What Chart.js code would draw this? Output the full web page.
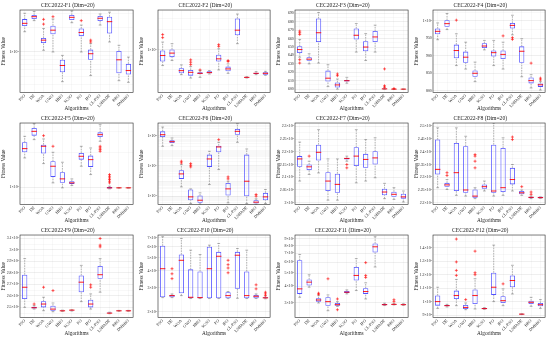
<!DOCTYPE html>
<html>
<head>
<meta charset="utf-8">
<script src="https://cdn.jsdelivr.net/npm/chart.js@4"></script>
<style>
  html, body { margin: 0; padding: 0; background: #fff; }
  #grid { position: relative; width: 550px; height: 338px; }
  #grid canvas { position: absolute; }
</style>
</head>
<body>
<div id="grid"></div>
<script>
const algorithms = ['PSO', 'DE', 'WOA', 'GWO', 'HHO', 'SCSO', 'PO', 'IPO', 'CL-PSO', 'LSHADE', 'BBO', 'DMBBO'];
const panelTitles = [
  'CEC2022-F1 (Dim=20)', 'CEC2022-F2 (Dim=20)', 'CEC2022-F3 (Dim=20)', 'CEC2022-F4 (Dim=20)',
  'CEC2022-F5 (Dim=20)', 'CEC2022-F6 (Dim=20)', 'CEC2022-F7 (Dim=20)', 'CEC2022-F8 (Dim=20)',
  'CEC2022-F9 (Dim=20)', 'CEC2022-F10 (Dim=20)', 'CEC2022-F11 (Dim=20)', 'CEC2022-F12 (Dim=20)'
];

// box stats per algorithm: [min, q1, median, q3, max]
const f1Stats = [[17800,20900,22600,25500,30100],[24400,25500,27300,28700,31600],[10500,12900,14000,14900,19500],[10000,16600,18600,21100,25500],[4300,5620,6810,8010,9080],[23000,24800,26800,28700,32200],[10000,15700,17400,19500,21500],[5110,8010,9520,10700,12700],[21500,24100,26100,27900,29500],[13300,16900,23700,27300,31000],[4420,5460,8010,10300,12100],[4220,5260,5900,7140,8650]];
const f1Outliers = [[],[],[25300,22100],[27300],[],[],[24400],[13300,14000],[],[],[],[]];
const f1Range = [3160, 33000];
const f1Ticks = [10000];
const f1TickLabels = ['1×10⁴'];

const f2Stats = [[5.73e6,6.60e6,8.15e6,9.72e6,1.30e7],[6.83e6,7.69e6,8.85e6,1.007e7,1.23e7],[4.17e6,4.37e6,4.80e6,5.22e6,5.87e6],[3.71e6,4.03e6,4.53e6,4.92e6,5.53e6],[3.80e6,4.27e6,4.37e6,4.53e6,4.80e6],[4.27e6,4.37e6,4.48e6,4.69e6,4.80e6],[4.92e6,6.60e6,7.25e6,8.35e6,1.03e7],[4.37e6,4.69e6,5.10e6,5.53e6,6.08e6],[1.23e7,1.65e7,1.97e7,2.97e7,3.46e7],[3.71e6,3.75e6,3.80e6,3.85e6,3.89e6],[4.17e6,4.27e6,4.37e6,4.48e6,4.64e6],[4.08e6,4.17e6,4.37e6,4.53e6,4.69e6]];
const f2Outliers = [[1.69e7,1.52e7],[],[],[5.93e6,6.45e6,7.0e6],[4.92e6],[],[1.12e7,1.19e7],[6.6e6,6.83e6],[],[],[],[]];
const f2Range = [2.24e6, 3.98e7];
const f2Ticks = [1e7];
const f2TickLabels = ['1×10⁷'];

const f3Stats = [[638,643,647,651,659],[630,633.6,635.6,638,642],[631,656,667,684,691],[603,609,613,622,629],[600,602,605,608,612],[607,609,610,611,614],[644,659,664,672,678],[634,645,650,657,666],[644,656,662,669,676],[599.8,600,600.3,600.8,601.5],[599.8,599.9,600,600.1,600.3],[599.8,599.9,600,600.1,600.2]];
const f3Outliers = [[669,667,665,635,631],[],[],[],[616,618],[],[],[],[],[624,604,602.5],[600.8],[]];
const f3Range = [596, 694];
const f3Ticks = [600,610,620,630,640,650,660,670,680,690];
const f3TickLabels = ['600','610','620','630','640','650','660','670','680','690'];

const f4Stats = [[946,961.5,970,978,994],[975,983,992,1002,1021],[872,893,915,932,963],[862,880,896,912,939],[826,840,850,858,882],[917,922,928,936,944],[872,898,909,915,944],[862,891,904,915,939],[960,978,987,994,1016],[840,880,913,927,949],[808,821,829,838,846],[802,811,817,821,826]];
const f4Outliers = [[],[],[1002],[],[],[],[],[957],[952,947],[],[879],[836,831]];
const f4Range = [795, 1031];
const f4Ticks = [800,850,900,950,1000];
const f4TickLabels = ['800','850','900','950','1×10³'];

const f5Stats = [[1778,1989,2138,2423,2727],[2554,2763,3010,3215,3503],[1590,1937,2239,2313,2589],[1086,1222,1509,1665,1989],[984,1086,1175,1340,1633],[1030,1064,1086,1122,1175],[1509,1720,1838,1963,2239],[1280,1489,1720,1862,2166],[2472,2692,2818,2951,3434],[965,971,984,1003,1017],[980,982,984,985,987],[980,982,984,985,987]];
const f5Outliers = [[],[],[2763],[2239],[],[],[],[],[2239,2166,2096,2028],[1280,1238,1198,1160,1122,1086],[],[]];
const f5Range = [708, 3548];
const f5Ticks = [1000];
const f5TickLabels = ['1×10³'];

const f6Stats = [[1.98e7,8.2e7,1.16e8,1.93e8,3.7e8],[2.19e7,3.28e7,4.0e7,4.9e7,7.0e7],[4.12e4,1.39e5,2.96e5,5.17e5,1.22e6],[3.28e3,5.4e3,9.0e3,2.75e4,3.04e4],[2.97e3,3.63e3,5.4e3,1.1e4,1.66e4],[5.87e4,8.6e5,2.89e6,5.58e6,9.25e6],[5.72e5,7.96e6,1.79e7,2.19e7,3.63e7],[3.63e3,1.1e4,3.04e4,7.56e4,9.73e4],[3.63e7,1.16e8,1.93e8,2.75e8,6.2e8],[3.28e3,9.98e3,9.73e4,5.58e6,1.32e7],[2.82e3,3.28e3,4.02e3,5.4e3,6.66e3],[3.28e3,5.4e3,9.0e3,1.66e4,2.75e4]];
const f6Outliers = [[],[],[2.03e6,1.57e6],[1.42e6,1.1e6,8.6e5],[],[],[5.44e7],[1.39e5,1.88e5],[],[],[1.29e4,9.98e3],[]];
const f6Range = [2818, 6.84e8];
const f6Ticks = [1e4, 1e6, 1e8];
const f6TickLabels = ['1×10⁴','1×10⁶','1×10⁸'];

const f7Stats = [[2085,2141,2172,2183,2238],[2111,2128,2141,2150,2163],[2117,2166,2198,2228,2287],[2010,2046,2085,2120,2172],[2010,2039,2072,2114,2172],[2163,2170,2174,2176,2183],[2078,2144,2183,2218,2287],[2085,2137,2170,2192,2248],[2098,2150,2176,2202,2255],[2016,2029,2042,2055,2076],[2013,2023,2033,2043,2059],[2003,2016,2023,2035,2046]];
const f7Outliers = [[],[2183],[],[],[],[2150,2137],[],[],[],[],[],[]];
const f7Range = [1993, 2313];
const f7Ticks = [2000,2050,2100,2150,2200,2250,2300];
const f7TickLabels = ['2×10³','2.05×10³','2.1×10³','2.15×10³','2.2×10³','2.25×10³','2.3×10³'];

const f8Stats = [[2259,2311,2331,2448,2494],[2252,2263,2270,2278,2291],[2229,2246,2318,2435,2494],[2226,2239,2250,2422,2461],[2216,2220,2226,2252,2259],[2246,2255,2263,2272,2285],[2226,2239,2246,2428,2513],[2229,2242,2259,2415,2455],[2246,2272,2291,2337,2350],[2229,2233,2239,2246,2250],[2216,2218,2221,2223,2226],[2217,2218,2220,2223,2223]];
const f8Outliers = [[],[2318,2307],[],[],[2389,2383,2363,2337],[],[],[],[2458,2448],[2263],[2242,2233],[]];
const f8Range = [2193, 2513];
const f8Ticks = [2200,2250,2300,2350,2400,2450,2500];
const f8TickLabels = ['2.2×10³','2.25×10³','2.3×10³','2.35×10³','2.4×10³','2.45×10³','2.5×10³'];

const f9Stats = [[2500,2573,2675,2784,2924],[2485,2491,2497,2506,2515],[2471,2500,2529,2553,2588],[2462,2471,2485,2515,2538],[2465,2468,2470,2473,2476],[2468,2472,2476,2478,2480],[2550,2632,2719,2778,2865],[2485,2500,2529,2567,2617],[2632,2749,2784,2860,2924],[2445,2448,2450,2455,2458],[2466,2468,2470,2472,2474],[2466,2468,2470,2472,2474]];
const f9Outliers = [[],[2529],[2675],[2646],[],[],[],[2696,2675],[3099,3041,3026],[],[],[]];
const f9Range = [2412, 3129];
const f9Ticks = [2500,2600,2700,2800,2900,3000,3100];
const f9TickLabels = ['2.5×10³','2.6×10³','2.7×10³','2.8×10³','2.9×10³','3×10³','3.1×10³'];

const f10Stats = [[2540,2554,4140,6095,7110],[2540,2554,2627,2657,2703],[2627,2735,4772,5259,6905],[2500,2512,2554,4094,5662],[2500,2512,2540,3957,5259],[2500,2512,4140,5995,6165],[2500,2512,5110,5506,6343],[2500,2512,2627,2782,2813],[2512,2945,5200,5506,5823],[2500,2512,2627,3957,5662],[2500,2512,2598,2657,2703],[2490,2512,2530,2554,2560]];
const f10Outliers = [[],[4140,3800,3500],[],[],[],[],[],[4772,4434,4190,3866],[],[],[3152,2945],[2782,2703,2627]];
const f10Range = [1815, 7316];
const f10Ticks = [2000,3000,4000,5000,6000,7000];
const f10TickLabels = ['2×10³','3×10³','4×10³','5×10³','6×10³','7×10³'];

const f11Stats = [[3307,3504,3820,6230,6871],[3931,4046,4285,4487,4864],[3000,3069,3159,3251,3404],[2627,2864,3069,3307,3444],[2831,2864,2914,3000,3069],[3504,3565,3606,3690,3754],[3711,4411,4808,5553,6412],[3214,3504,3648,3864,4236],[5553,7112,7846,8310,9322],[2870,2890,2914,2950,2990],[2900,2914,2930,2950,2970],[2880,2900,2914,2940,2960]];
const f11Outliers = [[],[],[3480,3545],[4539],[2673,3214],[],[],[5984,4808,4645],[],[],[3171,3069],[]];
const f11Range = [2340, 9600];
const f11Ticks = [3000,4000,5000,6000,7000,8000,9000];
const f11TickLabels = ['3×10³','4×10³','5×10³','6×10³','7×10³','8×10³','9×10³'];

const f12Stats = [[950,970,1000,1045,1107],[960,965,970,975,980],[970,1020,1045,1082,1165],[940,945,957,975,990],[945,982,1045,1090,1170],[943,945,948,952,955],[1000,1050,1107,1215,1420],[970,990,1007,1040,1095],[1057,1107,1157,1195,1270],[904,905,907,909,910],[965,982,995,1007,1032],[950,965,977,990,1015]];
const f12Outliers = [[],[],[1465,1295,1232,1195],[1015],[1375,1215,1200],[],[],[1132],[],[],[],[]];
const f12Range = [882, 1495];
const f12Ticks = [900,1000,1100,1200,1300,1400];
const f12TickLabels = ['9×10²','1×10³','1.1×10³','1.2×10³','1.3×10³','1.4×10³'];

const panels = [
  { stats: f1Stats, outliers: f1Outliers, log: true, range: f1Range, ticks: f1Ticks, labels: f1TickLabels },
  { stats: f2Stats, outliers: f2Outliers, log: true, range: f2Range, ticks: f2Ticks, labels: f2TickLabels },
  { stats: f3Stats, outliers: f3Outliers, log: false, range: f3Range, ticks: f3Ticks, labels: f3TickLabels },
  { stats: f4Stats, outliers: f4Outliers, log: false, range: f4Range, ticks: f4Ticks, labels: f4TickLabels },
  { stats: f5Stats, outliers: f5Outliers, log: true, range: f5Range, ticks: f5Ticks, labels: f5TickLabels },
  { stats: f6Stats, outliers: f6Outliers, log: true, range: f6Range, ticks: f6Ticks, labels: f6TickLabels },
  { stats: f7Stats, outliers: f7Outliers, log: false, range: f7Range, ticks: f7Ticks, labels: f7TickLabels },
  { stats: f8Stats, outliers: f8Outliers, log: false, range: f8Range, ticks: f8Ticks, labels: f8TickLabels },
  { stats: f9Stats, outliers: f9Outliers, log: false, range: f9Range, ticks: f9Ticks, labels: f9TickLabels },
  { stats: f10Stats, outliers: f10Outliers, log: true, range: f10Range, ticks: f10Ticks, labels: f10TickLabels },
  { stats: f11Stats, outliers: f11Outliers, log: true, range: f11Range, ticks: f11Ticks, labels: f11TickLabels },
  { stats: f12Stats, outliers: f12Outliers, log: false, range: f12Range, ticks: f12Ticks, labels: f12TickLabels }
];

const SERIF = "'Liberation Serif', 'Times New Roman', serif";
const BOX_BLUE = 'rgb(80, 80, 255)';
const MED_RED = 'rgb(255, 0, 0)';
const WHISKER = 'rgb(105, 105, 105)';

Chart.defaults.font.family = SERIF;
Chart.defaults.color = '#262626';

const framePlugin = {
  id: 'frame',
  afterDraw(chart) {
    const { ctx, chartArea: a } = chart;
    ctx.save();
    ctx.strokeStyle = '#262626';
    ctx.lineWidth = 0.6;
    ctx.strokeRect(a.left, a.top, a.right - a.left, a.bottom - a.top);
    ctx.restore();
  }
};

const key = v => parseFloat(Number(v).toPrecision(6));

// major tick values plus minor grid lines in between
function gridValues(p) {
  const [lo, hi] = p.range;
  const out = [];
  if (p.log) {
    for (let e = Math.floor(Math.log10(lo)); e <= Math.ceil(Math.log10(hi)); e++) {
      for (let k = 1; k <= 9; k++) {
        const v = key(k * Math.pow(10, e));
        if (v >= lo && v <= hi) out.push(v);
      }
    }
  } else {
    const step = (p.ticks[1] - p.ticks[0]) / 2;
    for (let v = p.ticks[0] - step * 4; v <= hi; v += step) {
      if (v >= lo) out.push(key(v));
    }
  }
  return out;
}

function makePanel(index) {
  const p = panels[index];
  const col = index % 4, row = Math.floor(index / 4);
  const left = Math.round(col * 137.5), right = Math.round((col + 1) * 137.5);
  const top = Math.round(row * 338 / 3), bottom = Math.round((row + 1) * 338 / 3);

  const canvas = document.createElement('canvas');
  canvas.width = right - left;
  canvas.height = bottom - top;
  canvas.style.left = left + 'px';
  canvas.style.top = top + 'px';
  document.getElementById('grid').appendChild(canvas);

  const labelMap = new Map(p.ticks.map((v, i) => [key(v), p.labels[i]]));
  const grid = gridValues(p);

  // whisker segments, broken by null points
  const whiskers = [];
  const caps = [];
  p.stats.forEach((s, i) => {
    const x = algorithms[i];
    whiskers.push({ x, y: s[0] }, { x, y: s[1] }, { x, y: null });
    whiskers.push({ x, y: s[3] }, { x, y: s[4] }, { x, y: null });
    caps.push({ x, y: s[0] }, { x, y: s[4] });
  });
  const outlierPoints = [];
  p.outliers.forEach((list, i) => list.forEach(v => outlierPoints.push({ x: algorithms[i], y: v })));

  new Chart(canvas, {
    type: 'bar',
    data: {
      labels: algorithms,
      datasets: [
        {
          type: 'line', order: 0, data: p.stats.map(s => s[2]), showLine: false,
          pointStyle: 'line', pointRadius: 2.7, pointBorderColor: MED_RED, pointBorderWidth: 0.9
        },
        {
          type: 'line', order: 1, data: outlierPoints, showLine: false,
          pointStyle: 'cross', pointRadius: 1.5, pointBorderColor: MED_RED, pointBorderWidth: 0.6
        },
        {
          order: 2, data: p.stats.map(s => [s[1], s[3]]), grouped: false,
          backgroundColor: 'rgba(255,255,255,0)', borderColor: BOX_BLUE, borderWidth: 0.8, borderSkipped: false,
          barPercentage: 0.56, categoryPercentage: 1
        },
        {
          type: 'line', order: 3, data: caps, showLine: false,
          pointStyle: 'line', pointRadius: 1.4, pointBorderColor: WHISKER, pointBorderWidth: 0.5
        },
        {
          type: 'line', order: 4, data: whiskers, spanGaps: false,
          borderColor: WHISKER, borderWidth: 0.5, borderDash: [1.6, 1], pointRadius: 0
        }
      ]
    },
    options: {
      responsive: false,
      animation: false,
      devicePixelRatio: 1,
      layout: { padding: { left: 0, right: 2.5, top: 0, bottom: 0 } },
      plugins: {
        legend: { display: false },
        tooltip: { enabled: false },
        title: {
          display: true, text: panelTitles[index], color: '#1a1a1a',
          font: { family: SERIF, size: 5.6, weight: 'normal' },
          padding: { top: 2.5, bottom: 0.8 }
        }
      },
      scales: {
        x: {
          offset: true,
          grid: { offset: false, color: 'rgba(0,0,0,0.06)', lineWidth: 0.5, drawTicks: false },
          border: { display: false },
          ticks: { font: { size: 4.1 }, minRotation: 45, maxRotation: 45, autoSkip: false, padding: 1, color: '#262626' },
          title: { display: true, text: 'Algorithms', font: { family: SERIF, size: 5.3 }, padding: { top: 0, bottom: 1 }, color: '#262626' },
          afterFit: s => { s.height = 20.5; }
        },
        y: {
          type: p.log ? 'logarithmic' : 'linear',
          min: p.range[0], max: p.range[1],
          afterBuildTicks: s => { s.ticks = grid.map(v => ({ value: v })); },
          grid: {
            drawTicks: false, lineWidth: 0.5,
            color: c => (c.tick && labelMap.has(key(c.tick.value))) ? 'rgba(0,0,0,0.13)' : 'rgba(0,0,0,0.055)'
          },
          border: { display: false },
          ticks: {
            font: { size: 3.9 }, autoSkip: false, padding: 1.2, color: '#262626',
            callback: v => labelMap.get(key(v)) || ''
          },
          title: { display: true, text: 'Fitness Value', font: { family: SERIF, size: 5.3 }, padding: 0, color: '#262626' },
          afterFit: s => { s.width = 20; }
        }
      }
    },
    plugins: [framePlugin]
  });
}

document.addEventListener('DOMContentLoaded', () => {
  panels.forEach((p, i) => makePanel(i));
});
</script>
</body>
</html>
